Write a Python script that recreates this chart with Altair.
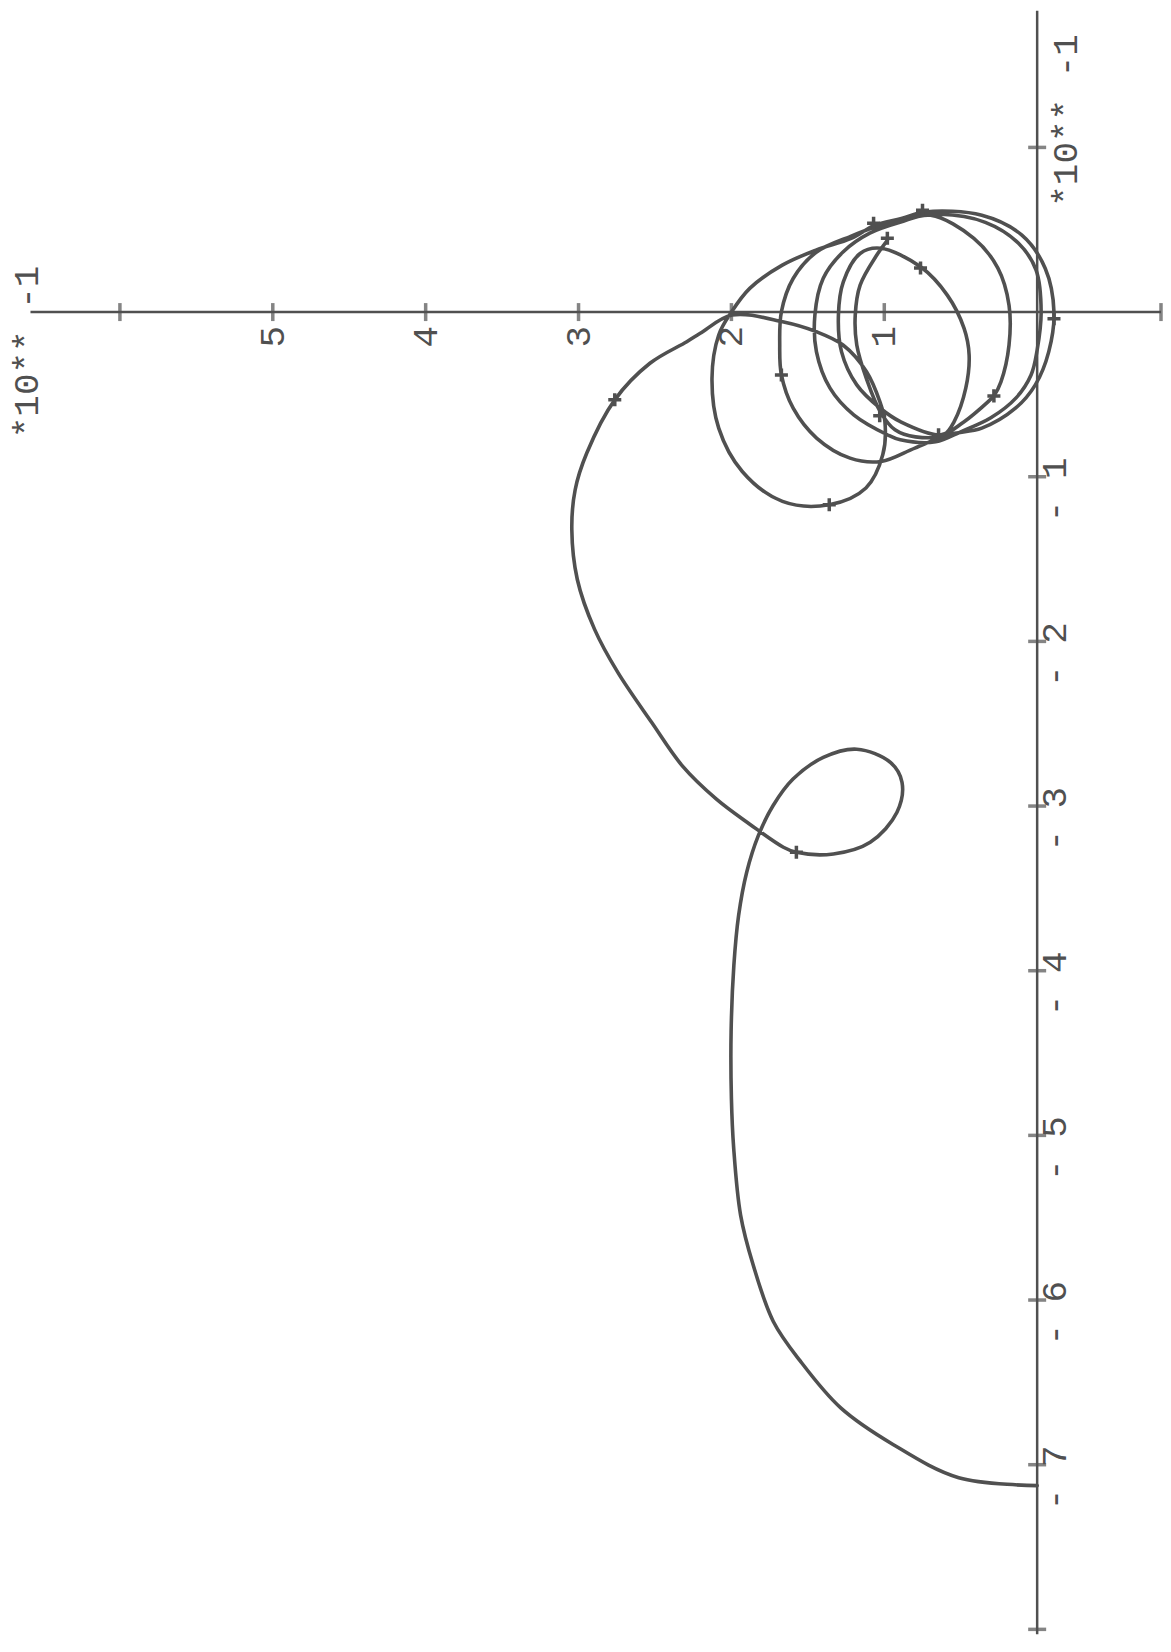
import altair as alt
import pandas as pd

# Nyquist-style locus (values in units of 10**-1)
curve_imag = [
    0.0, 0.513, 0.943, 1.285, 1.55, 1.726, 1.858, 1.94, 1.985, 2.0, 2.002, 1.984, 1.953, 1.90, 1.824,
    1.728, 1.597, 1.399, 1.18, 0.96, 0.884, 0.917, 1.092, 1.333, 1.575, 1.66, 1.88, 2.098, 2.321,
    2.521, 2.742, 2.895, 3.008, 3.044, 3.022, 2.946, 2.763, 2.533, 2.292, 2.204, 1.996,
    1.665, 1.445, 1.27, 1.116, 1.029, 0.996, 1.01, 1.12, 1.36, 1.666, 1.929, 2.083, 2.127, 2.083,
    2.0, 1.88, 1.667, 1.447, 1.217, 1.064, 0.888, 0.735, 0.362, 0.1, -0.053, -0.11, -0.076, 0.012,
    0.142, 0.362, 0.581, 0.8, 1.02,
    1.224, 1.443, 1.596, 1.673, 1.684, 1.673, 1.596, 1.443, 1.22, 1.05, 0.888,
    0.635, 0.339, 0.122, 0.007, -0.026, 0.0, 0.04, 0.138, 0.303, 0.5, 0.664,
    0.895, 0.98, 1.2, 1.355, 1.444, 1.454, 1.4, 1.27, 1.095, 0.898,
    0.697, 0.414, 0.257, 0.184, 0.184, 0.237, 0.283, 0.322, 0.48, 0.63,
    0.895, 1.026, 1.18, 1.28, 1.30, 1.268, 1.158, 1.026,
    0.763, 0.588, 0.478, 0.445, 0.467, 0.543, 0.609,
    0.796, 0.93, 1.026, 1.114, 1.18, 1.19, 1.158, 1.05, 0.98,
]
curve_real = [
    -7.127, -7.079, -6.877, -6.655, -6.37, -6.13, -5.786, -5.484, -5.079, -4.776, -4.371, -3.968, -3.665, -3.402, -3.18,
    -2.998, -2.836, -2.705, -2.655, -2.735, -2.856, -3.038, -3.22, -3.291, -3.281, -3.25, -3.11, -2.958, -2.756,
    -2.493, -2.19, -1.927, -1.624, -1.321, -1.079, -0.856, -0.533, -0.311, -0.18, -0.129, -0.018,
    -0.059, -0.119, -0.2, -0.362, -0.544, -0.665, -0.867, -1.068, -1.17, -1.15, -0.968, -0.705, -0.402, -0.139,
    0.0, 0.144, 0.285, 0.376, 0.447, 0.527, 0.568, 0.608, 0.588, 0.467, 0.265, 0.0, -0.24, -0.442,
    -0.584, -0.705, -0.745, -0.826, -0.907,
    -0.887, -0.765, -0.584, -0.382, -0.2, 0.002, 0.204, 0.365, 0.46, 0.52, 0.56,
    0.594, 0.545, 0.418, 0.255, 0.0, -0.23, -0.382, -0.521, -0.642, -0.727, -0.788,
    -0.776, -0.745, -0.624, -0.462, -0.24, -0.018, 0.204, 0.365, 0.479, 0.545,
    0.588, 0.448, 0.267, 0.042, -0.2, -0.424, -0.509, -0.545, -0.667, -0.745,
    -0.665, -0.584, -0.442, -0.24, -0.018, 0.184, 0.356, 0.388,
    0.275, 0.103, -0.099, -0.261, -0.462, -0.665, -0.745,
    -0.758, -0.715, -0.606, -0.412, -0.2, -0.018, 0.164, 0.345, 0.436,
]

# frequency marks along the locus
mark_imag = [2.763, 1.575, 1.36, 1.03, 1.673, -0.11, 0.283, 0.763, 0.75, 1.07, 0.98, 0.645]
mark_real = [-0.533, -3.281, -1.17, -0.63, -0.382, -0.04, -0.509, 0.267, 0.618, 0.54, 0.448, -0.745]

# axes
h_axis_from, h_axis_to = 6.585, -0.81
v_axis_from, v_axis_to = 1.83, -8.03
h_ticks = [1, 2, 3, 4, 5, 6, -0.81]
v_ticks = [1, -1, -2, -3, -4, -5, -6, -7, -8]
h_labels = ["1", "2", "3", "4", "5"]
h_label_vals = [1, 2, 3, 4, 5]
v_labels = ["- 1", "- 2", "- 3", "- 4", "- 5", "- 6", "- 7"]
v_label_vals = [-1, -2, -3, -4, -5, -6, -7]
exp_label = "*10** -1"

INK = "#505050"
FONT = "Liberation Mono"

xs = alt.Scale(domain=[-0.797, 6.719], reverse=True, nice=False, zero=False)
ys = alt.Scale(domain=[-8.03, 1.8424], nice=False, zero=False)

def X(f):
    return alt.X(f, type="quantitative", scale=xs, axis=None)

def Y(f):
    return alt.Y(f, type="quantitative", scale=ys, axis=None)

curve_df = pd.DataFrame({"im": curve_imag, "re": curve_real, "i": list(range(len(curve_imag)))})
marks_df = pd.DataFrame({"im": mark_imag, "re": mark_real})
haxis_df = pd.DataFrame({"a": [h_axis_from], "b": [h_axis_to], "y": [0.0]})
vaxis_df = pd.DataFrame({"a": [v_axis_from], "b": [v_axis_to], "x": [0.0]})
htick_df = pd.DataFrame({"im": h_ticks, "re": [0.0] * len(h_ticks)})
vtick_df = pd.DataFrame({"im": [0.0] * len(v_ticks), "re": v_ticks})
hlab_df = pd.DataFrame({"im": h_label_vals, "re": [-0.15] * len(h_label_vals), "t": h_labels})
vlab_df = pd.DataFrame({"im": [-0.12] * len(v_label_vals),
                        "re": [v - 0.08 for v in v_label_vals], "t": v_labels})
exp_df = pd.DataFrame({"im": [6.608, -0.19], "re": [-0.242, 1.164], "t": [exp_label, exp_label]})

h_axis = alt.Chart(haxis_df).mark_rule(color=INK, strokeWidth=2.5).encode(
    x=X("a"), x2="b", y=Y("y"))
v_axis = alt.Chart(vaxis_df).mark_rule(color=INK, strokeWidth=2.5).encode(
    y=Y("a"), y2="b", x=X("x"))
h_tk = alt.Chart(htick_df).mark_tick(orient="vertical", color=INK, size=18, thickness=3.5).encode(
    x=X("im"), y=Y("re"))
v_tk = alt.Chart(vtick_df).mark_tick(orient="horizontal", color=INK, size=18, thickness=3.5).encode(
    x=X("im"), y=Y("re"))

line = alt.Chart(curve_df).mark_line(
    color=INK, strokeWidth=3.6, interpolate="catmull-rom", strokeJoin="round", strokeCap="round"
).encode(x=X("im"), y=Y("re"), order="i:Q")

fmarks = alt.Chart(marks_df).mark_point(
    shape="M -1 0 L 1 0 M 0 -1 L 0 1", filled=False, stroke=INK, strokeWidth=3.5, size=170, opacity=1
).encode(x=X("im"), y=Y("re"))

def texts(df):
    return alt.Chart(df).mark_text(
        font=FONT, fontSize=36, color=INK, angle=270, align="center", baseline="middle"
    ).encode(x=X("im"), y=Y("re"), text="t:N")

chart = alt.layer(
    h_axis, v_axis, h_tk, v_tk, line, fmarks, texts(hlab_df), texts(vlab_df), texts(exp_df)
).properties(width=1150, height=1627, padding=0, background="white").configure_view(stroke=None)

chart.save("out.html", embed_options={"renderer": "svg", "actions": False})
